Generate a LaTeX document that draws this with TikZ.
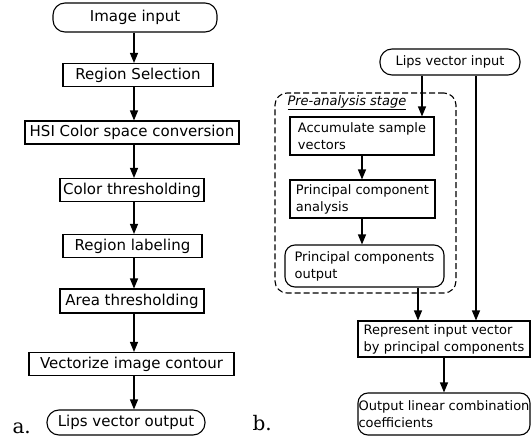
\documentclass[tikz,border=0pt]{standalone}
\usepackage{fontspec}
\setmainfont{DejaVu Sans}
\newfontfamily\tagfont{DejaVu Serif}
\usetikzlibrary{arrows.meta,positioning}

\begin{document}
\begin{tikzpicture}[x=1pt, y=-1pt, >={Triangle[length=10pt,width=8pt]},
    line width=1.1pt,
    lbox/.style={draw, minimum height=23, inner sep=0pt, font=\fontsize{15}{18}\selectfont},
    lpill/.style={lbox, rounded corners=12},
    rbox/.style={draw, minimum height=38, inner sep=0pt, align=left,
      font=\fontsize{13}{17}\selectfont},
    rpill/.style={rbox, rounded corners=10},
    flow/.style={->}]
  \useasboundingbox (0,0) rectangle (531,439);

  \node[lpill, minimum width=164, minimum height=29] (imgin) at (135,17.5) {Image input};
  \node[lbox, minimum width=150] (regsel) at (138,75) {Region Selection};
  \node[lbox, minimum width=214] (hsi) at (132,132.5) {HSI Color space conversion};
  \node[lbox, minimum width=144] (colthr) at (132,190) {Color thresholding};
  \node[lbox, minimum width=139] (reglab) at (132.5,246) {Region labeling};
  \node[lbox, minimum width=144, minimum height=24] (areathr) at (132,301) {Area thresholding};
  \node[lbox, minimum width=205] (vect) at (131.5,364) {Vectorize image contour};
  \node[lpill, minimum width=158, minimum height=25] (lipsout) at (126,422.5) {Lips vector output};
  \coordinate (ax) at (134,0);
  \foreach \a/\b in {imgin/regsel, regsel/hsi, hsi/colthr, colthr/reglab,
                     reglab/areathr, areathr/vect, vect/lipsout}
    \draw[flow] (\a.south -| ax) -- (\b.north -| ax);

  \node[lpill, minimum width=140, minimum height=26, font=\fontsize{13}{16}\selectfont] (lipsin) at (450,62) {Lips vector input};
  \node[draw, dash pattern=on 6pt off 3pt, rounded corners=12, minimum width=181, minimum height=200] (stage) at (365.5,193) {};
  \node[anchor=base west, inner sep=0pt, font=\fontsize{13}{16}\selectfont] (stagelbl) at (287,105)
    {\underline{\textit{Pre-analysis stage}}};
  \node[rbox, minimum width=144] (accum) at (362,136) {Accumulate sample\\vectors};
  \node[rbox, minimum width=145] (pca) at (362.5,199) {Principal component\\analysis};
  \node[rpill, minimum width=159, minimum height=42] (pcout) at (364.5,266) {Principal components\\output};
  \node[rbox, minimum width=172, minimum height=36] (repr) at (444,339)
    {Represent input vector\\by principal components};
  \node[rpill, minimum width=172, minimum height=42] (outlin) at (444,414)
    {Output linear combination\\coefficients};

  \coordinate (c1) at (422,0);
  \coordinate (c2) at (476,0);
  \coordinate (c3) at (362,0);
  \coordinate (c4) at (418,0);
  \coordinate (c5) at (444,0);
  \draw[flow] (lipsin.south -| c1) -- (accum.north -| c1);
  \draw[flow] (lipsin.south -| c2) -- (repr.north -| c2);
  \draw[flow] (accum.south -| c3) -- (pca.north -| c3);
  \draw[flow] (pca.south -| c3) -- (pcout.north -| c3);
  \draw[flow] (pcout.south -| c4) -- (repr.north -| c4);
  \draw[flow] (repr.south -| c5) -- (outlin.north -| c5);

  \node[anchor=base west, inner sep=0pt, font=\tagfont\fontsize{20}{24}\selectfont] (taga) at (12,433) {a.};
  \node[anchor=base west, inner sep=0pt, font=\tagfont\fontsize{20}{24}\selectfont] (tagb) at (252,430) {b.};
\end{tikzpicture}
\end{document}
